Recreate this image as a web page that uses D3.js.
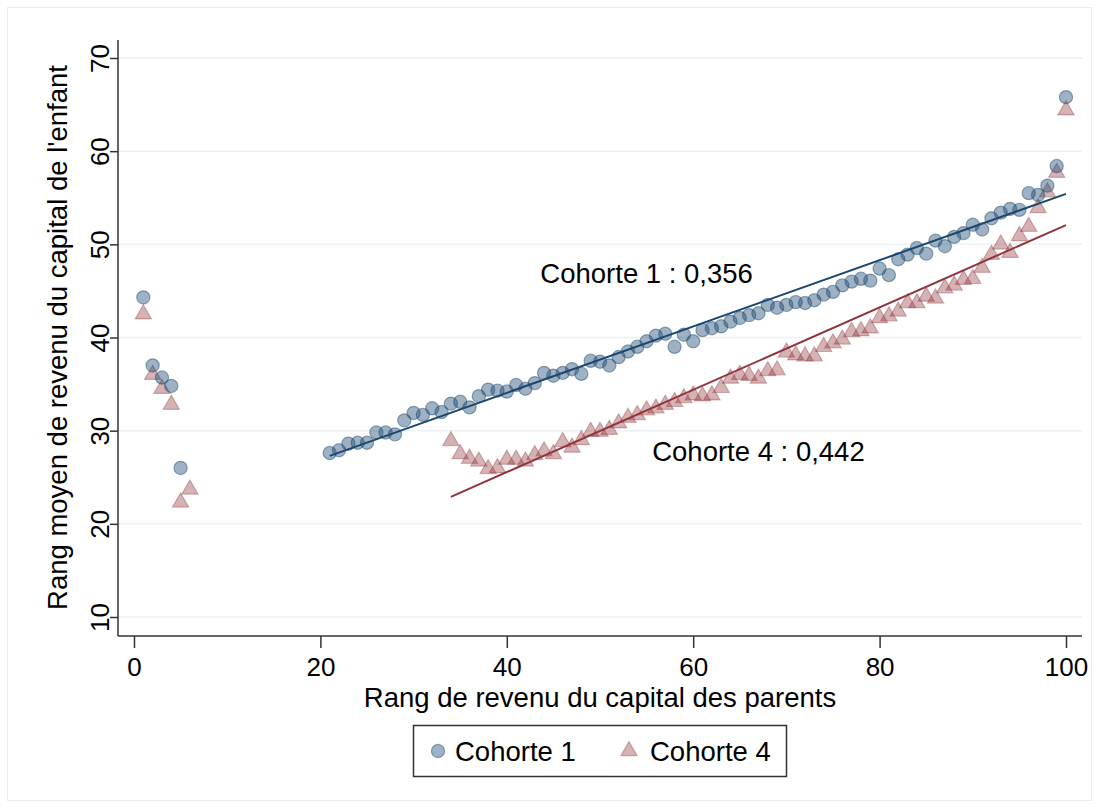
<!DOCTYPE html>
<html>
<head>
<meta charset="utf-8">
<script src="https://cdn.jsdelivr.net/npm/d3@7"></script>
<style>
  body { margin: 0; background: #fff; }
  text { font-family: "Liberation Sans", Arial, sans-serif; fill: #000; }
</style>
</head>
<body>
<div id="chart"></div>
<script>
// cohorte 1 : rangs des parents et rang moyen des enfants
const c1X = [1, 2, 3, 4, 5,
  21, 22, 23, 24, 25, 26, 27, 28, 29, 30, 31, 32, 33, 34, 35, 36, 37, 38, 39, 40,
  41, 42, 43, 44, 45, 46, 47, 48, 49, 50, 51, 52, 53, 54, 55, 56, 57, 58, 59, 60,
  61, 62, 63, 64, 65, 66, 67, 68, 69, 70, 71, 72, 73, 74, 75, 76, 77, 78, 79, 80,
  81, 82, 83, 84, 85, 86, 87, 88, 89, 90, 91, 92, 93, 94, 95, 96, 97, 98, 99, 100];
const c1Y = [44.3, 37.0, 35.7, 34.8, 26.0,
  27.6, 27.9, 28.6, 28.7, 28.7, 29.8, 29.8, 29.6, 31.1, 31.9, 31.7, 32.4, 32.0, 32.9, 33.1, 32.5, 33.7, 34.4, 34.3, 34.2,
  34.9, 34.5, 35.1, 36.2, 35.9, 36.2, 36.6, 36.1, 37.5, 37.4, 37.0, 37.9, 38.5, 39.0, 39.6, 40.2, 40.4, 39.0, 40.3, 39.6,
  40.8, 41.0, 41.2, 41.7, 42.1, 42.4, 42.6, 43.5, 43.2, 43.5, 43.8, 43.7, 44.0, 44.6, 44.9, 45.6, 46.0, 46.3, 46.1, 47.4,
  46.7, 48.4, 48.9, 49.6, 49.0, 50.4, 49.8, 50.8, 51.2, 52.1, 51.6, 52.8, 53.4, 53.8, 53.7, 55.5, 55.3, 56.3, 58.4, 65.8];

// cohorte 4
const c4X = [1, 2, 3, 4, 5, 6,
  34, 35, 36, 37, 38, 39, 40, 41, 42, 43, 44, 45, 46, 47, 48, 49, 50,
  51, 52, 53, 54, 55, 56, 57, 58, 59, 60, 61, 62, 63, 64, 65, 66, 67, 68, 69, 70,
  71, 72, 73, 74, 75, 76, 77, 78, 79, 80, 81, 82, 83, 84, 85, 86, 87, 88, 89, 90,
  91, 92, 93, 94, 95, 96, 97, 98, 99, 100];
const c4Y = [42.5, 36.0, 34.5, 32.8, 22.3, 23.7,
  28.9, 27.5, 27.0, 26.7, 25.9, 26.0, 26.9, 26.9, 26.7, 27.4, 27.8, 27.5, 28.8, 28.2, 29.0, 29.9, 29.9,
  30.1, 30.8, 31.4, 31.7, 32.2, 32.4, 32.8, 33.1, 33.5, 33.8, 33.7, 33.8, 34.6, 35.6, 36.0, 35.9, 35.6, 36.4, 36.5, 38.4,
  38.1, 38.0, 38.0, 39.0, 39.4, 39.8, 40.6, 40.7, 41.0, 42.1, 42.3, 42.8, 43.7, 43.7, 44.4, 44.2, 45.3, 45.6, 46.2, 46.3,
  47.5, 48.9, 50.0, 49.1, 50.9, 51.9, 53.9, 55.6, 57.7, 64.4];

// droites de régression (pente, ordonnée à l'origine, étendue)
const fitNames = ["Cohorte 1", "Cohorte 4"];
const fitSlope = [0.356, 0.442];
const fitIntercept = [19.82, 7.87];
const fitRange = [[21, 100], [34, 100]];

const xTicks = [0, 20, 40, 60, 80, 100];
const yTicks = [10, 20, 30, 40, 50, 60, 70];

const width = 1099, height = 808;
const navy = "#1a476f", maroon = "#90353b";
const fs = 27.5, tickFs = 26;

const svg = d3.select("#chart").append("svg")
  .attr("width", width)
  .attr("height", height);

// cadre extérieur léger
svg.append("rect")
  .attr("x", 7.5).attr("y", 7.5)
  .attr("width", width - 15).attr("height", height - 15)
  .attr("fill", "#fff")
  .attr("stroke", "#ececec");

const plot = { left: 118, right: 1082, top: 40, bottom: 636 };

const x = d3.scaleLinear().domain([0, 100]).range([134, 1066]);
const y = d3.scaleLinear().domain([10, 70]).range([617, 58]);

// grille
svg.append("g")
  .selectAll("line")
  .data(yTicks)
  .join("line")
  .attr("x1", plot.left).attr("x2", plot.right)
  .attr("y1", d => y(d)).attr("y2", d => y(d))
  .attr("stroke", "#eaf2f3")
  .attr("stroke-width", 1.5);

// axe Y
const yAxis = svg.append("g")
  .attr("transform", `translate(${plot.left},0)`)
  .call(d3.axisLeft(y).tickValues(yTicks).tickSize(8).tickPadding(6).tickSizeOuter(0));
yAxis.select(".domain").attr("d", `M0,${plot.top}V${plot.bottom}`).attr("stroke", "#333").attr("stroke-width", 1.5);
yAxis.selectAll(".tick line").attr("stroke", "#333").attr("stroke-width", 1.5);
yAxis.selectAll(".tick text")
  .attr("font-size", tickFs)
  .attr("font-family", "Liberation Sans, Arial, sans-serif")
  .attr("fill", "#000")
  .attr("text-anchor", "middle")
  .attr("x", null)
  .attr("dy", null)
  .attr("transform", "translate(-9,0) rotate(-90)");

// axe X
const xAxis = svg.append("g")
  .attr("transform", `translate(0,${plot.bottom})`)
  .call(d3.axisBottom(x).tickValues(xTicks).tickSize(12).tickPadding(10).tickSizeOuter(0));
xAxis.select(".domain").attr("d", `M${plot.left},0H${plot.right}`).attr("stroke", "#333").attr("stroke-width", 1.5);
xAxis.selectAll(".tick line").attr("stroke", "#333").attr("stroke-width", 1.5);
xAxis.selectAll(".tick text")
  .attr("font-size", tickFs)
  .attr("font-family", "Liberation Sans, Arial, sans-serif")
  .attr("fill", "#000");

// titres
svg.append("text")
  .attr("x", 600).attr("y", 707)
  .attr("text-anchor", "middle")
  .attr("font-size", fs)
  .text("Rang de revenu du capital des parents");

svg.append("text")
  .attr("transform", `translate(67,${(y(10) + y(70)) / 2}) rotate(-90)`)
  .attr("text-anchor", "middle")
  .attr("font-size", fs)
  .text("Rang moyen de revenu du capital de l'enfant");

// points
const c1 = c1X.map((d, i) => ({ x: d, y: c1Y[i] }));
const c4 = c4X.map((d, i) => ({ x: d, y: c4Y[i] }));

const tri = d3.symbol().type(d3.symbolTriangle).size(115);

svg.append("g")
  .selectAll("path")
  .data(c4)
  .join("path")
  .attr("d", tri)
  .attr("transform", d => `translate(${x(d.x)},${y(d.y)})`)
  .attr("fill", maroon)
  .attr("fill-opacity", 0.38)
  .attr("stroke", maroon)
  .attr("stroke-opacity", 0.35)
  .attr("stroke-width", 1.2);

svg.append("g")
  .selectAll("circle")
  .data(c1)
  .join("circle")
  .attr("cx", d => x(d.x))
  .attr("cy", d => y(d.y))
  .attr("r", 6.6)
  .attr("fill", navy)
  .attr("fill-opacity", 0.42)
  .attr("stroke", navy)
  .attr("stroke-opacity", 0.45)
  .attr("stroke-width", 1.2);

// droites de régression
const fitColors = [navy, maroon];
svg.append("g")
  .selectAll("line")
  .data(fitNames.map((n, i) => ({ a: fitIntercept[i], b: fitSlope[i], r: fitRange[i], c: fitColors[i] })))
  .join("line")
  .attr("x1", d => x(d.r[0]))
  .attr("x2", d => x(d.r[1]))
  .attr("y1", d => y(d.a + d.b * d.r[0]))
  .attr("y2", d => y(d.a + d.b * d.r[1]))
  .attr("stroke", d => d.c)
  .attr("stroke-width", 2);

// annotations
const notes = [
  { label: "Cohorte 1 : 0,356", x: 43.6, y: 46.9 },
  { label: "Cohorte 4 : 0,442", x: 55.6, y: 27.8 }
];
svg.append("g")
  .selectAll("text")
  .data(notes)
  .join("text")
  .attr("x", d => x(d.x))
  .attr("y", d => y(d.y))
  .attr("dy", "0.35em")
  .attr("font-size", fs)
  .text(d => d.label);

// légende
const legend = svg.append("g");
legend.append("rect")
  .attr("x", 413.5).attr("y", 725.5)
  .attr("width", 373).attr("height", 51)
  .attr("fill", "#fff")
  .attr("stroke", "#333")
  .attr("stroke-width", 1.5);

legend.append("circle")
  .attr("cx", 438).attr("cy", 751).attr("r", 6.6)
  .attr("fill", navy).attr("fill-opacity", 0.42)
  .attr("stroke", navy).attr("stroke-opacity", 0.45).attr("stroke-width", 1.2);
legend.append("text")
  .attr("x", 455).attr("y", 751).attr("dy", "0.35em")
  .attr("font-size", fs)
  .text(fitNames[0]);

legend.append("path")
  .attr("d", tri)
  .attr("transform", "translate(629,751)")
  .attr("fill", maroon).attr("fill-opacity", 0.38)
  .attr("stroke", maroon).attr("stroke-opacity", 0.35).attr("stroke-width", 1.2);
legend.append("text")
  .attr("x", 650).attr("y", 751).attr("dy", "0.35em")
  .attr("font-size", fs)
  .text(fitNames[1]);
</script>
</body>
</html>
